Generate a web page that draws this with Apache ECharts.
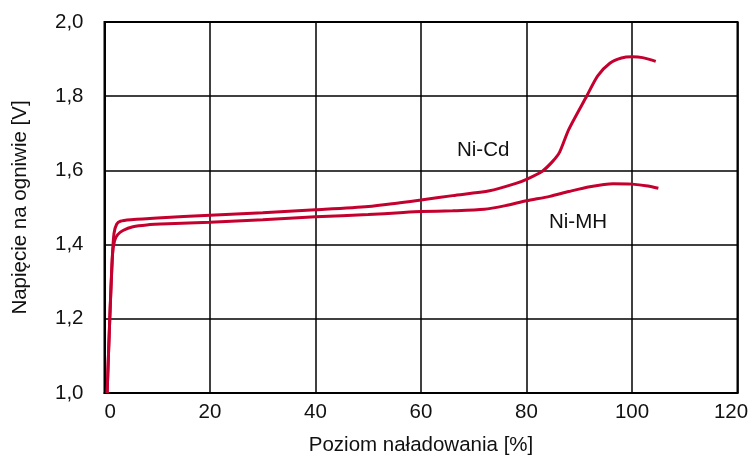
<!DOCTYPE html>
<html><head><meta charset="utf-8">
<script src="https://cdn.jsdelivr.net/npm/echarts@6/dist/echarts.min.js"></script>
<style>html,body{margin:0;padding:0;background:#fff}#c{width:751px;height:462px}</style>
</head><body><div id="c"></div>
<script>
const xTicks = [0, 20, 40, 60, 80, 100, 120];
const yTicks = [1.0, 1.2, 1.4, 1.6, 1.8, 2.0];
const niCd = [[0.5,1.0],[1.0,1.2],[1.5,1.37],[1.8,1.43],[2.3,1.455],[3,1.463],[5,1.467],[10,1.472],[20,1.479],[30,1.486],[40,1.494],[50,1.503],[56,1.513],[60,1.520],[66,1.532],[73,1.545],[78,1.565],[80,1.576],[83,1.598],[85,1.625],[86.3,1.650],[88,1.71],[91.4,1.80],[93.5,1.855],[95.8,1.889],[98,1.903],[100,1.906],[102,1.904],[104.5,1.894]];
const niMH = [[0.5,1.0],[1.0,1.2],[1.5,1.37],[1.9,1.41],[2.5,1.427],[3.5,1.438],[5.4,1.448],[8,1.453],[12,1.456],[20,1.460],[30,1.467],[40,1.475],[50,1.481],[56,1.486],[60,1.489],[66,1.491],[72,1.495],[76,1.505],[80,1.518],[84.4,1.530],[88,1.543],[92,1.556],[96.4,1.564],[100,1.563],[103,1.558],[105,1.552]];
const seriesNames = ['Ni-Cd', 'Ni-MH'];
const lineColor = '#C4002F';
const font = 'Liberation Sans, Arial, sans-serif';
const xMax = xTicks[xTicks.length-1];
const chart = echarts.init(document.getElementById('c'));
chart.setOption({
  animation: false,
  grid: {left: 104.5, right: 13.5, top: 22, bottom: 69, containLabel: false, outerBoundsMode: 'none',
         show: true, borderColor: '#000', borderWidth: 2, backgroundColor: 'transparent'},
  xAxis: {
    type: 'value', min: xTicks[0], max: xMax, interval: 20,
    name: 'Poziom naładowania [%]', nameLocation: 'middle', nameGap: 42,
    nameTextStyle: {fontFamily: font, fontSize: 20.5, color: '#111'},
    axisLine: {show: true, lineStyle: {color: '#000', width: 2}},
    axisTick: {show: false},
    axisLabel: {fontFamily: font, fontSize: 20.5, color: '#111', margin: 9,
      alignMinLabel: 'left', hideOverlap: false,
      formatter: v => v === xMax ? String(v) + '{s|}' : String(v),
      rich: {s: {width: 13}}},
    splitLine: {show: true, lineStyle: {color: '#000', width: 1.5}}
  },
  yAxis: {
    type: 'value', min: yTicks[0], max: yTicks[yTicks.length-1], interval: 0.2,
    name: 'Napięcie na ogniwie [V]', nameLocation: 'middle', nameGap: 74,
    nameTextStyle: {fontFamily: font, fontSize: 20.5, color: '#111'},
    axisLine: {show: true, lineStyle: {color: '#000', width: 2}},
    axisTick: {show: false},
    axisLabel: {fontFamily: font, fontSize: 20.5, color: '#111', margin: 21,
      formatter: v => v.toFixed(1).replace('.', ',')},
    splitLine: {show: true, lineStyle: {color: '#000', width: 1.5}}
  },
  series: [
    {name: seriesNames[0], type: 'line', data: niCd, smooth: 0.25, symbol: 'none',
     lineStyle: {color: lineColor, width: 3}},
    {name: seriesNames[1], type: 'line', data: niMH, smooth: 0.25, symbol: 'none',
     lineStyle: {color: lineColor, width: 3}}
  ],
  graphic: [
    {type: 'text', x: 457, y: 150, style: {text: seriesNames[0], fontFamily: font, fontSize: 20.5, fill: '#111', verticalAlign: 'middle'}},
    {type: 'text', x: 549, y: 222, style: {text: seriesNames[1], fontFamily: font, fontSize: 20.5, fill: '#111', verticalAlign: 'middle'}}
  ]
});
</script></body></html>
